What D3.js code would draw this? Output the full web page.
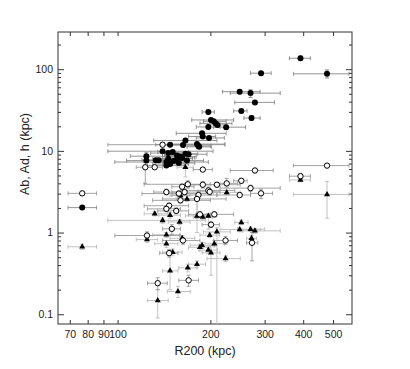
<!DOCTYPE html>
<html>
<head>
<meta charset="utf-8">
<script src="https://cdn.jsdelivr.net/npm/d3@7"></script>
<style>
  body { margin: 0; background: #fff; }
  svg text { font-family: "Liberation Sans", Arial, sans-serif; fill: #222; }
</style>
</head>
<body>
<svg id="chart" width="410" height="369"></svg>
<script>
// [R200, value, xLo, xHi, yLo, yHi]  (kpc)
var filledPts = [
  [76.8, 2.02, 69.1, 85.5, 1.95, 2.1],
  [392, 136, 361, 422, 128, 145],
  [478, 87.7, 372, 563, 78, 98],
  [292, 89.3, 270, 315, 85, 94],
  [249, 53, 219, 290, 50, 56],
  [270, 50.9, 232, 337, 45, 56],
  [279, 39.2, 240, 323, 37, 41],
  [252, 30.8, 238, 263, 29, 32.5],
  [272, 25.2, 257, 290, 23.5, 27],
  [197, 29.9, 188, 206, 28.5, 31],
  [201, 23.9, 174, 238, 22.5, 25],
  [205, 23.0, 190, 225, 22, 24],
  [208, 21.7, 185, 235, 20.8, 22.6],
  [211, 20.8, 196, 226, 20, 21.6],
  [197, 19.6, 180, 215, 18.8, 20.4],
  [225, 19.5, 205, 260, 18.5, 20.5],
  [188, 16.4, 155, 225, 15.6, 17.2],
  [189, 15.0, 170, 208, 14.3, 15.7],
  [198, 14.4, 180, 222, 13.8, 15],
  [166, 13.4, 131, 210, 12.8, 14],
  [181, 12.1, 150, 223, 11.6, 12.6],
  [183, 11.5, 165, 200, 11, 12],
  [163, 11.8, 140, 185, 11.3, 12.3],
  [148, 11.9, 133, 165, 11.4, 12.4],
  [140, 9.9, 93, 204, 9.4, 10.4],
  [146, 9.4, 128, 168, 9, 9.8],
  [151, 9.7, 135, 170, 9.3, 10.1],
  [124, 8.6, 110, 140, 7.9, 9.6],
  [124, 7.6, 107, 140, 7.2, 8],
  [133, 7.7, 120, 148, 7.3, 8.1],
  [136, 7.7, 125, 150, 7.3, 8.1],
  [146, 8.0, 130, 165, 7.6, 8.4],
  [144, 7.3, 98, 197, 6.9, 7.7],
  [152, 7.5, 138, 168, 7.1, 7.9],
  [156, 8.0, 140, 175, 7.6, 8.4],
  [160, 8.5, 140, 180, 8.1, 8.9],
  [168, 7.6, 150, 190, 7.2, 8],
  [170, 9.1, 150, 195, 8.6, 9.6],
  [144, 6.6, 125, 165, 6.3, 6.9],
  [148, 6.9, 130, 170, 6.6, 7.2],
  [158, 7.1, 140, 178, 6.8, 7.4],
  [162, 8.2, 148, 178, 7.8, 8.6],
  [156, 8.8, 142, 172, 8.4, 9.2],
  [166, 9.2, 152, 182, 8.8, 9.6],
  [184, 11.2, 168, 202, 10.7, 11.7]
];

var openPts = [
  [76.8, 3.02, 69.1, 85.5, 2.85, 3.2],
  [478, 6.6, 372, 563, 6.3, 6.9],
  [392, 4.9, 361, 422, 4.5, 5.3],
  [279, 5.75, 232, 320, 5.4, 6.1],
  [252, 4.3, 238, 263, 4.0, 4.6],
  [226, 4.0, 207, 245, 3.6, 4.6],
  [210, 3.85, 172, 250, 3.6, 4.1],
  [189, 3.85, 165, 215, 3.5, 4.2],
  [169, 3.9, 122, 200, 3.5, 4.3],
  [162, 3.64, 150, 177, 3.4, 3.9],
  [197, 3.28, 160, 240, 3.0, 3.6],
  [199, 3.15, 185, 215, 2.9, 3.4],
  [270, 3.5, 215, 337, 3.2, 3.8],
  [292, 3.02, 270, 318, 2.6, 3.4],
  [249, 2.88, 210, 270, 2.7, 3.1],
  [144, 3.13, 131, 158, 2.9, 3.4],
  [158, 3.0, 120, 200, 2.8, 3.2],
  [165, 3.13, 150, 182, 2.9, 3.4],
  [183, 2.88, 150, 210, 2.6, 3.2],
  [181, 2.58, 140, 225, 1.5, 3.0],
  [160, 2.48, 130, 200, 2.3, 2.7],
  [147, 2.13, 122, 170, 2.0, 2.3],
  [144, 1.95, 125, 160, 1.8, 2.1],
  [155, 1.84, 135, 170, 1.7, 2.0],
  [185, 1.67, 170, 200, 1.55, 1.8],
  [206, 1.67, 180, 238, 1.55, 1.8],
  [201, 1.25, 188, 214, 1.15, 1.35],
  [150, 1.11, 140, 160, 0.95, 1.25],
  [124.6, 0.92, 98, 159, 0.82, 1.02],
  [163, 0.80, 140, 185, 0.72, 0.88],
  [224, 0.80, 205, 245, 0.72, 0.9],
  [273, 0.75, 262, 285, 0.45, 1.0],
  [147, 0.56, 137, 157, 0.5, 0.62],
  [135, 0.24, 125, 145, 0.2, 0.28],
  [170, 0.26, 158, 183, 0.22, 0.3],
  [123, 6.3, 115, 131, 4.0, 7.2],
  [132, 6.3, 124, 140, 6.0, 6.6],
  [189, 5.9, 176, 203, 5.6, 6.2],
  [140, 11.9, 93, 223, 11.2, 12.6]
];

var triPts = [
  [76.8, 0.67, 69.1, 85.5, 0.62, 0.72],
  [392, 4.4, 361, 422, 4.2, 4.6],
  [478, 2.93, 372, 563, 1.5, 4.2],
  [166, 6.3, 156, 176, 4.8, 7.0],
  [226, 3.1, 205, 250, 2.9, 3.3],
  [168, 2.58, 155, 182, 2.4, 2.8],
  [160, 2.85, 148, 172, 2.6, 3.1],
  [132, 1.7, 122, 145, 1.6, 1.8],
  [140, 1.41, 93, 193, 1.3, 1.5],
  [148, 1.63, 136, 160, 1.5, 1.75],
  [159, 1.35, 146, 172, 1.25, 1.45],
  [181, 1.6, 166, 196, 1.0, 1.7],
  [189, 1.55, 176, 203, 1.45, 1.65],
  [197, 1.6, 184, 210, 1.1, 1.7],
  [252, 1.33, 240, 265, 1.25, 1.42],
  [249, 1.09, 215, 290, 1.02, 1.16],
  [270, 1.1, 245, 300, 1.03, 1.17],
  [279, 1.05, 255, 337, 0.98, 1.12],
  [210, 1.02, 190, 232, 0.05, 1.15],
  [199, 0.93, 185, 214, 0.87, 1.0],
  [144, 0.94, 130, 160, 0.87, 1.0],
  [124.6, 0.82, 115, 135, 0.76, 0.88],
  [144, 0.73, 132, 157, 0.66, 0.8],
  [162, 0.85, 148, 178, 0.78, 0.92],
  [272, 0.85, 262, 282, 0.78, 0.92],
  [188, 0.70, 172, 205, 0.64, 0.76],
  [185, 0.66, 170, 200, 0.6, 0.72],
  [206, 0.73, 192, 222, 0.67, 0.8],
  [197, 0.61, 184, 211, 0.55, 0.67],
  [201, 0.565, 188, 215, 0.3, 0.7],
  [151, 0.575, 140, 162, 0.52, 0.63],
  [224, 0.48, 195, 250, 0.44, 0.52],
  [148, 0.34, 140, 157, 0.2, 0.6],
  [169, 0.37, 158, 181, 0.33, 0.41],
  [181, 0.41, 170, 193, 0.37, 0.45],
  [157, 0.19, 145, 172, 0.16, 0.22],
  [135, 0.147, 125, 146, 0.09, 0.2]
];

var xTicks = [70, 80, 90, 100, 200, 300, 400, 500];
var yTicks = [0.1, 1, 10, 100];
var yMinor = [];
[0.1, 1, 10, 100].forEach(function(d){ for (var k = 2; k <= 9; k++) yMinor.push(d * k); });

var svg = d3.select("#chart"),
    margin = {top: 32, right: 58, bottom: 45, left: 58},
    width = +svg.attr("width") - margin.left - margin.right,
    height = +svg.attr("height") - margin.top - margin.bottom;

var x = d3.scaleLog().domain([64.1, 576]).range([0, width]);
var y = d3.scaleLog().domain([0.076, 285]).range([height, 0]);

var g = svg.append("g").attr("transform", "translate(" + margin.left + "," + margin.top + ")");

svg.append("defs").append("clipPath").attr("id", "clip")
  .append("rect").attr("width", width).attr("height", height);

// axes, ticks inward
var fmt = function(d){ return d3.format("~g")(d); };
g.append("g").attr("transform", "translate(0," + height + ")")
  .call(d3.axisBottom(x).tickValues(xTicks).tickSize(-4).tickPadding(7).tickFormat(fmt));
g.append("g")
  .call(d3.axisTop(x).tickValues(xTicks).tickSize(-4).tickFormat(""));
g.append("g")
  .call(d3.axisLeft(y).tickValues(yTicks).tickSize(-6).tickPadding(5).tickFormat(fmt));
g.append("g")
  .call(d3.axisLeft(y).tickValues(yMinor.filter(function(d){ return d >= 0.076 && d <= 285; })).tickSize(-3).tickFormat(""));
g.append("g").attr("transform", "translate(" + width + ",0)")
  .call(d3.axisRight(y).tickValues(yTicks).tickSize(-6).tickFormat(""));
g.append("g").attr("transform", "translate(" + width + ",0)")
  .call(d3.axisRight(y).tickValues(yMinor.filter(function(d){ return d >= 0.076 && d <= 285; })).tickSize(-3).tickFormat(""));

g.selectAll(".domain").remove();
g.selectAll(".tick line").attr("stroke", "#333");
g.selectAll(".tick text").attr("font-size", 10.5).attr("fill", "#222");

g.append("rect").attr("width", width).attr("height", height)
  .attr("fill", "none").attr("stroke", "#333").attr("stroke-width", 1);

// error bars
function drawErrors(data, color) {
  var e = g.append("g").attr("clip-path", "url(#clip)").attr("stroke", color).attr("stroke-width", 0.9);
  data.forEach(function(d){
    var cx = x(d[0]), cy = y(d[1]);
    var x0 = x(d[2]), x1 = x(d[3]), y0 = y(d[4]), y1 = y(d[5]);
    e.append("line").attr("x1", x0).attr("x2", x1).attr("y1", cy).attr("y2", cy);
    e.append("line").attr("x1", x0).attr("x2", x0).attr("y1", cy - 2).attr("y2", cy + 2);
    e.append("line").attr("x1", x1).attr("x2", x1).attr("y1", cy - 2).attr("y2", cy + 2);
    e.append("line").attr("x1", cx).attr("x2", cx).attr("y1", y0).attr("y2", y1);
    e.append("line").attr("x1", cx - 2).attr("x2", cx + 2).attr("y1", y0).attr("y2", y0);
    e.append("line").attr("x1", cx - 2).attr("x2", cx + 2).attr("y1", y1).attr("y2", y1);
  });
}
drawErrors(triPts, "#bbb");
drawErrors(openPts, "#999");
drawErrors(filledPts, "#888");

// markers
g.append("g").selectAll("path").data(triPts).enter().append("path")
  .attr("d", d3.symbol().type(d3.symbolTriangle).size(16))
  .attr("transform", function(d){ return "translate(" + x(d[0]) + "," + y(d[1]) + ")"; })
  .attr("fill", "#000");
g.append("g").selectAll("circle").data(openPts).enter().append("circle")
  .attr("cx", function(d){ return x(d[0]); })
  .attr("cy", function(d){ return y(d[1]); })
  .attr("r", 2.7).attr("fill", "#fff").attr("stroke", "#000").attr("stroke-width", 1);
g.append("g").selectAll("circle").data(filledPts).enter().append("circle")
  .attr("cx", function(d){ return x(d[0]); })
  .attr("cy", function(d){ return y(d[1]); })
  .attr("r", 3).attr("fill", "#000");

// axis titles
svg.append("text").attr("x", margin.left + width / 2).attr("y", 355)
  .attr("text-anchor", "middle").attr("font-size", 12.5).text("R200 (kpc)");
svg.append("text").attr("transform", "translate(29,154) rotate(-90)")
  .attr("text-anchor", "middle").attr("font-size", 12.5).text("Ab, Ad, h (kpc)");
</script>
</body>
</html>
